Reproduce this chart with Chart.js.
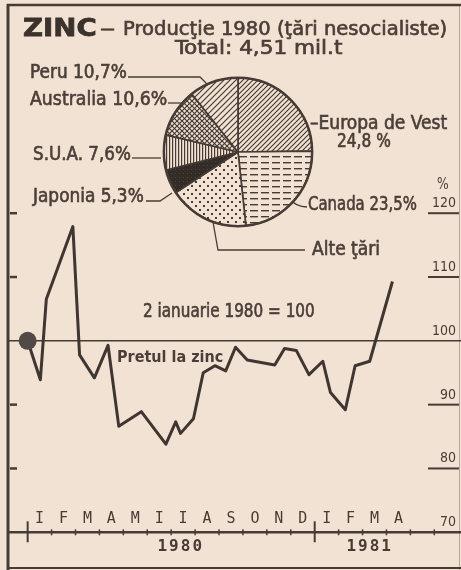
<!DOCTYPE html>
<html>
<head>
<meta charset="utf-8">
<script src="https://cdn.jsdelivr.net/npm/chart.js@4.4.1/dist/chart.umd.min.js"></script>
<style>
  html, body { margin: 0; padding: 0; background: #f2e2d3; }
  #wrap { position: relative; width: 461px; height: 570px; overflow: hidden; background: #f2e2d3; }
  canvas { position: absolute; }
  #lineChart { left: 0; top: 0; }
  #pieChart { left: 162px; top: 76px; }
  .lbl { position: absolute; white-space: nowrap; color: #4a3f38; line-height: 1;
         font-family: 'DejaVu Sans Condensed', 'Liberation Sans Narrow', sans-serif; font-size: 19px;
         -webkit-text-stroke: 0.6px #4a3f38;
         transform-origin: 0 50%; }
</style>
</head>
<body>
<div id="wrap">
  <canvas id="lineChart" width="461" height="570"></canvas>
  <canvas id="pieChart" width="152" height="152"></canvas>
</div>
<script>
// ----------------- DATA -----------------
const pieLabels = ['Europa de Vest', 'Canada', 'Alte ţări', 'Japonia', 'S.U.A.', 'Australia', 'Peru'];
const pieValues = [24.8, 23.5, 17.5, 5.3, 7.6, 10.6, 10.7];

// price index, x in months from 2 Jan 1980
const priceMonths = [0.0, 0.53, 0.78, 1.89, 2.17, 2.79, 3.36, 3.81, 4.75, 5.78, 6.19, 6.39, 6.93, 7.34,
                     7.83, 8.28, 8.69, 9.18, 10.33, 10.74, 11.23, 11.76, 12.34, 12.66, 13.28, 13.69, 14.30, 15.25];
const priceIndex  = [100, 93.9, 106.5, 117.9, 97.8, 94.2, 99.3, 86.6, 88.9, 83.8, 87.3, 85.5, 87.8, 95.0,
                     96.1, 95.3, 99.0, 97.0, 96.2, 98.8, 98.5, 94.7, 96.8, 91.9, 89.2, 96.1, 96.8, 109.3];

const monthLabels = ['I', 'F', 'M', 'A', 'M', 'I', 'I', 'A', 'S', 'O', 'N', 'D', 'I', 'F', 'M', 'A'];
const yearLabels = ['1980', '1981'];
const yTicks = [120, 110, 100, 90, 80, 70];

const INK = '#463c35';
const PAPER = '#f2e2d3';

// ----------------- TEXT LABELS -----------------
const pct = v => String(v).replace('.', ',') + '%';
const texts = [
  // [text, x0, x1, yCenter, extra style]
  ['ZINC', 23, 97, 27, "font: 900 25px 'DejaVu Sans'; color:#3b322c; -webkit-text-stroke:0.8px #3b322c"],
  ['–', 100, 116, 28, ''],
  ['Producţie 1980 (ţări nesocialiste)', 123, 447, 28, ''],
  ['Total: 4,51 mil.t', 175, 343, 47, ''],
  [pieLabels[6] + ' ' + pct(pieValues[6]), 30, 127, 71, ''],
  [pieLabels[5] + ' ' + pct(pieValues[5]), 30, 167, 98, ''],
  [pieLabels[4] + ' ' + pct(pieValues[4]), 33, 131, 153, ''],
  [pieLabels[3] + ' ' + pct(pieValues[3]), 33, 144, 195, ''],
  ['–' + pieLabels[0], 310, 447, 122, ''],
  [pct(pieValues[0]).replace('%', ' %'), 337, 391, 140, ''],
  [pieLabels[1] + ' ' + pct(pieValues[1]), 308, 417, 203, ''],
  [pieLabels[2], 312, 380, 248, ''],
  ['%', 437, 449, 184, 'font-size:16px; -webkit-text-stroke:0'],
  ['2 ianuarie 1980 = 100', 143, 315, 310, ''],
  ['Pretul la zinc', 117, 223, 357, 'font-size:16px; font-weight:bold; -webkit-text-stroke:0'],
];

const wrap = document.getElementById('wrap');
texts.forEach(([t, x0, x1, yc, st]) => {
  const d = document.createElement('div');
  d.className = 'lbl';
  d.textContent = t;
  if (st) d.style.cssText = st;
  wrap.appendChild(d);
  const w = d.offsetWidth, h = d.offsetHeight;
  d.style.left = x0 + 'px';
  d.style.top = (yc - h / 2) + 'px';
  d.style.transform = `scaleX(${(x1 - x0) / w})`;
});

// ----------------- PATTERNS -----------------
function pattern(w, h, draw) {
  const c = document.createElement('canvas');
  c.width = w; c.height = h;
  const g = c.getContext('2d');
  g.fillStyle = PAPER; g.fillRect(0, 0, w, h);
  g.strokeStyle = INK; g.fillStyle = INK; g.lineWidth = 1.2;
  draw(g, w, h);
  return g.createPattern(c, 'repeat');
}
const diag = s => (g) => {
  g.beginPath();
  g.moveTo(0, s); g.lineTo(s, 0);
  g.moveTo(-1, 1); g.lineTo(1, -1);
  g.moveTo(s - 1, s + 1); g.lineTo(s + 1, s - 1);
  g.stroke();
};
const pieFills = [
  pattern(5, 5, diag(5)),                                   // Europa de Vest
  pattern(11, 6, g => { g.fillRect(0, 2, 8, 1.4); }),       // Canada
  pattern(8, 8, g => { g.fillRect(1, 1, 2, 2); g.fillRect(5, 5, 2, 2); }), // Alte tari
  pattern(4, 4, g => { g.fillStyle = '#342c27'; g.fillRect(0, 0, 4, 4); g.fillStyle = '#4f443d'; g.fillRect(1, 1, 1, 1); }), // Japonia
  pattern(3, 3, g => { g.fillRect(1, 0, 1.2, 3); }),        // S.U.A.
  pattern(5, 5, g => { diag(5)(g); g.beginPath(); g.moveTo(0, 0); g.lineTo(5, 5); g.moveTo(-1, 4); g.lineTo(1, 6); g.moveTo(4, -1); g.lineTo(6, 1); g.stroke(); }), // Australia
  pattern(6, 6, diag(6)),                                   // Peru
];

// ----------------- PIE -----------------
const pieOutline = {
  id: 'pieOutline',
  afterDatasetsDraw(chart) {
    const a = chart.getDatasetMeta(0).data[0];
    const ctx = chart.ctx;
    ctx.save();
    ctx.strokeStyle = INK; ctx.lineWidth = 2.5;
    ctx.beginPath(); ctx.arc(a.x, a.y, a.outerRadius, 0, Math.PI * 2); ctx.stroke();
    ctx.restore();
  }
};
new Chart(document.getElementById('pieChart'), {
  type: 'pie',
  data: { labels: pieLabels, datasets: [{ data: pieValues, backgroundColor: pieFills, borderColor: INK, borderWidth: 1.7 }] },
  options: {
    responsive: false, animation: false, devicePixelRatio: 1,
    layout: { padding: 1 },
    plugins: { legend: { display: false }, tooltip: { enabled: false } }
  },
  plugins: [pieOutline]
});

// ----------------- LINE -----------------
const decor = {
  id: 'decor',
  beforeDatasetsDraw(chart) {
    const { ctx, scales: { x, y } } = chart;
    ctx.save();
    ctx.strokeStyle = INK; ctx.fillStyle = INK; ctx.lineCap = 'butt';
    // frame
    ctx.lineWidth = 2.5;
    ctx.beginPath(); ctx.moveTo(7, 5); ctx.lineTo(461, 5); ctx.stroke();
    ctx.lineWidth = 3;
    ctx.beginPath(); ctx.moveTo(8, 4); ctx.lineTo(8, 570); ctx.stroke();
    ctx.lineWidth = 2;
    ctx.beginPath(); ctx.moveTo(7, 568); ctx.lineTo(461, 568); ctx.stroke();
    ctx.strokeStyle = 'rgba(74,63,56,0.35)'; ctx.lineWidth = 1;
    ctx.beginPath(); ctx.moveTo(459.5, 5); ctx.lineTo(459.5, 570); ctx.stroke();
    ctx.strokeStyle = INK;

    // leader lines
    ctx.lineWidth = 1.3;
    const seg = pts => { ctx.beginPath(); ctx.moveTo(pts[0][0], pts[0][1]); pts.slice(1).forEach(p => ctx.lineTo(p[0], p[1])); ctx.stroke(); };
    seg([[128, 77], [200, 77], [207, 84]]);
    seg([[168, 103], [181, 103]]);
    seg([[132, 158], [161, 158]]);
    seg([[146, 201], [160, 201], [172, 193]]);
    seg([[213, 222], [218, 250], [305, 250]]);
    ctx.beginPath(); ctx.moveTo(287, 197); ctx.quadraticCurveTo(296, 207, 307, 207); ctx.stroke();

    // reference 100 line
    const y100 = y.getPixelForValue(100);
    ctx.lineWidth = 1.5;
    ctx.beginPath(); ctx.moveTo(8, y100); ctx.lineTo(461, y100); ctx.stroke();

    // y ticks: left dashes, right underlines, labels
    ctx.font = "14px 'DejaVu Sans Condensed', sans-serif";
    ctx.textAlign = 'right'; ctx.textBaseline = 'alphabetic';
    yTicks.forEach(v => {
      const py = y.getPixelForValue(v);
      if (v !== 100 && v !== 70) {
        ctx.lineWidth = 2.5;
        ctx.beginPath(); ctx.moveTo(10, py); ctx.lineTo(17, py); ctx.stroke();
        ctx.lineWidth = 2;
        ctx.beginPath(); ctx.moveTo(428, py); ctx.lineTo(459, py); ctx.stroke();
      }
      ctx.fillText(String(v), 456, py - 6);
    });

    // x axis
    const y70 = y.getPixelForValue(70);
    ctx.lineWidth = 2.5;
    ctx.beginPath(); ctx.moveTo(8, y70); ctx.lineTo(461, y70); ctx.stroke();
    for (let k = 0; k <= 17; k++) {
      const px = x.getPixelForValue(k);
      const big = k === 0 || k === 12;
      ctx.lineWidth = big ? 2 : 1.5;
      ctx.beginPath(); ctx.moveTo(px, y70 - (big ? 11 : 3)); ctx.lineTo(px, y70 + (big ? 10 : 3)); ctx.stroke();
    }
    ctx.textAlign = 'center'; ctx.textBaseline = 'middle';
    ctx.font = "15px 'DejaVu Sans Mono', monospace";
    monthLabels.forEach((m, k) => ctx.fillText(m, x.getPixelForValue(k + 0.5), y70 - 13));
    ctx.font = "bold 16px 'DejaVu Sans Mono', monospace";
    if (ctx.letterSpacing !== undefined) ctx.letterSpacing = '2px';
    [6.4, 14.3].forEach((m, i) => ctx.fillText(yearLabels[i], x.getPixelForValue(m), y70 + 15));
    ctx.restore();
  }
};

new Chart(document.getElementById('lineChart'), {
  type: 'line',
  data: {
    datasets: [{
      data: priceMonths.map((m, i) => ({ x: m, y: priceIndex[i] })),
      borderColor: '#3f3631',
      borderWidth: 3,
      tension: 0,
      fill: false,
      borderJoinStyle: 'round',
      pointRadius: c => c.dataIndex === 0 ? 9 : 0,
      pointBackgroundColor: '#514a47',
      pointBorderColor: '#514a47',
      pointBorderWidth: 0
    }]
  },
  options: {
    responsive: false, animation: false, devicePixelRatio: 1,
    layout: { padding: { left: 7, right: 3, top: 5, bottom: 3 } },
    plugins: { legend: { display: false }, tooltip: { enabled: false } },
    scales: {
      x: { type: 'linear', min: -0.78, max: 17.74, display: false },
      y: { min: 65.5, max: 152, display: false }
    }
  },
  plugins: [decor]
});
</script>
</body>
</html>
